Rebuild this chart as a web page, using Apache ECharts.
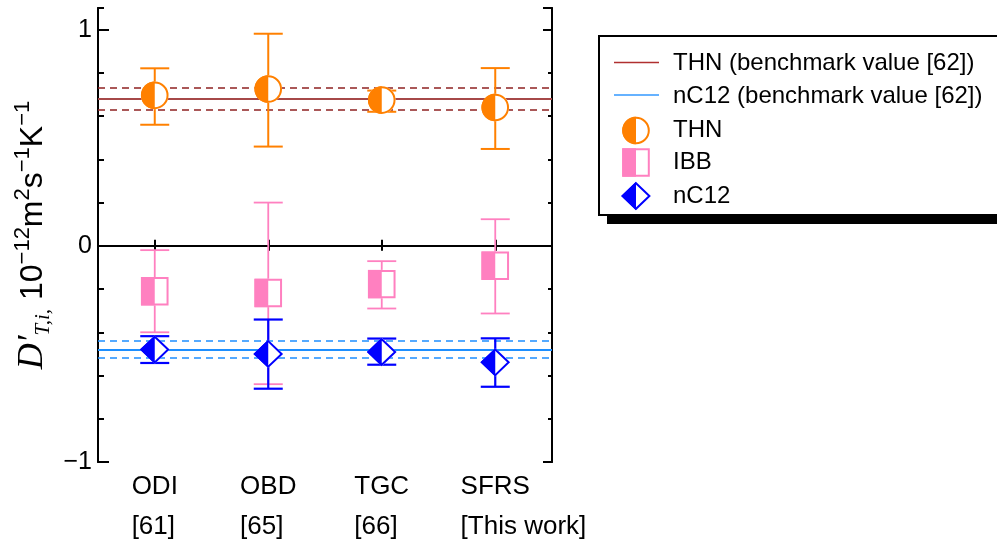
<!DOCTYPE html>
<html><head><meta charset="utf-8">
<script src="https://cdn.jsdelivr.net/npm/echarts@6/dist/echarts.min.js"></script>
<style>html,body{margin:0;padding:0;background:#fff}#c{width:997px;height:541px}</style>
</head><body><div id="c"></div><script>
// ---------- data ----------
const categories = ['ODI', 'OBD', 'TGC', 'SFRS'];
const references = ['[61]', '[65]', '[66]', '[This work]'];
const thnValue = [0.696, 0.725, 0.674, 0.640];
const thnLow   = [0.560, 0.459, 0.620, 0.448];
const thnHigh  = [0.821, 0.981, 0.718, 0.822];
const ibbValue = [-0.210, -0.218, -0.177, -0.092];
const ibbLow   = [-0.400, -0.640, -0.290, -0.313];
const ibbHigh  = [-0.020, 0.200, -0.071, 0.123];
const nc12Value = [-0.480, -0.500, -0.491, -0.539];
const nc12Low   = [-0.542, -0.661, -0.550, -0.652];
const nc12High  = [-0.418, -0.341, -0.429, -0.428];
const thnBenchmark = 0.680;
const thnBenchmarkBand = [0.629, 0.730];
const nc12Benchmark = -0.480;
const nc12BenchmarkBand = [-0.519, -0.442];
const yTickValues = [-1, 0, 1];
const yTickLabels = ['\u22121', '0', '1'];
const legendNames = ['THN (benchmark value [62])', 'nC12 (benchmark value [62])', 'THN', 'IBB', 'nC12'];

// ---------- styles ----------
const SANS = '"Liberation Sans", Arial, Helvetica, sans-serif';
const SERIF = '"Liberation Serif", "Times New Roman", serif';
const C_THN = '#FF8000', C_IBB = '#FF80C0', C_NC12 = '#0000FF';
const C_THN_LINE = '#A64848', C_THN_DASH = '#8E2222', C_NC_LINE = '#1E8FFF', C_NC_DASH = '#1E8FFF';
const LABEL_FONT = 26;

function markerEls(kind, cx, cy, color, s) {
  s = s || 1;
  const out = [];
  if (kind === 'circle') {
    const r = 13.8 * s, pts = [];
    for (let i = 0; i <= 40; i++) {
      const a = Math.PI / 2 + Math.PI * i / 40;
      pts.push([cx + r * Math.cos(a), cy + r * Math.sin(a)]);
    }
    out.push({type: 'circle', shape: {cx: cx, cy: cy, r: r}, style: {fill: '#fff'}});
    out.push({type: 'polygon', shape: {points: pts}, style: {fill: color}});
    out.push({type: 'circle', shape: {cx: cx, cy: cy, r: r - 1}, style: {fill: 'none', stroke: color, lineWidth: 2}});
  } else if (kind === 'square') {
    const hw = 13.8 * s, hh = 14.2 * s;
    out.push({type: 'rect', shape: {x: cx - hw, y: cy - hh, width: 2 * hw, height: 2 * hh}, style: {fill: '#fff'}});
    out.push({type: 'rect', shape: {x: cx - hw, y: cy - hh, width: hw, height: 2 * hh}, style: {fill: color}});
    out.push({type: 'rect', shape: {x: cx - hw + 1, y: cy - hh + 1, width: 2 * hw - 2, height: 2 * hh - 2}, style: {fill: 'none', stroke: color, lineWidth: 2}});
  } else {
    const hw = 14.8 * s, hh = 14.2 * s, k = 1.4;
    out.push({type: 'polygon', shape: {points: [[cx, cy - hh], [cx + hw, cy], [cx, cy + hh], [cx - hw, cy]]}, style: {fill: '#fff'}});
    out.push({type: 'polygon', shape: {points: [[cx, cy - hh], [cx, cy + hh], [cx - hw, cy]]}, style: {fill: color}});
    out.push({type: 'polygon', shape: {points: [[cx, cy - hh + k], [cx + hw - k, cy], [cx, cy + hh - k], [cx - hw + k, cy]]}, style: {fill: 'none', stroke: color, lineWidth: 2}});
  }
  return out;
}

function errorSeries(name, kind, color, lw, vals, lows, highs) {
  return {
    type: 'custom', name: name, xAxisIndex: 0, yAxisIndex: 0, z: 5, silent: true,
    data: vals.map(function (v, i) { return [i, v, lows[i], highs[i]]; }),
    encode: {x: 0, y: [1, 2, 3]},
    renderItem: function (params, api) {
      const i = api.value(0);
      const c = api.coord([i, api.value(1)]);
      const lo = api.coord([i, api.value(2)]);
      const hi = api.coord([i, api.value(3)]);
      const cap = 14.5;
      const ls = {stroke: color, lineWidth: lw};
      const children = [
        {type: 'line', shape: {x1: c[0], y1: lo[1], x2: c[0], y2: hi[1]}, style: ls},
        {type: 'line', shape: {x1: c[0] - cap, y1: lo[1], x2: c[0] + cap, y2: lo[1]}, style: ls},
        {type: 'line', shape: {x1: c[0] - cap, y1: hi[1], x2: c[0] + cap, y2: hi[1]}, style: ls}
      ].concat(markerEls(kind, c[0], c[1], color));
      return {type: 'group', children: children};
    }
  };
}

// measure first-line widths so second line starts at the first line's left edge
const mctx = document.createElement('canvas').getContext('2d');
mctx.font = LABEL_FONT + 'px ' + SANS;
const xRich = {a: {fontSize: LABEL_FONT, fontFamily: SANS, color: '#000', lineHeight: 40, align: 'left'}};
categories.forEach(function (c, i) {
  xRich['b' + i] = {fontSize: LABEL_FONT, fontFamily: SANS, color: '#000', lineHeight: 40, align: 'left',
    width: Math.round(mctx.measureText(c).width)};
});

const axLine = {show: true, lineStyle: {color: '#000', width: 2}};
function yAxisDef(pos, interval, tickLen, withLabels) {
  const d = {
    type: 'value', position: pos, min: -1, max: 1.1, interval: interval,
    axisLine: axLine,
    axisTick: {show: true, inside: true, length: tickLen, lineStyle: {color: '#000', width: 2}},
    splitLine: {show: false},
    axisLabel: {show: false}
  };
  if (withLabels) {
    d.axisLabel = {
      show: true, margin: 6, fontSize: 25, fontFamily: SANS, color: '#000', showMaxLabel: false,
      formatter: function (v) {
        const k = yTickValues.findIndex(function (t) { return Math.abs(t - v) < 1e-6; });
        return k >= 0 ? yTickLabels[k] : '';
      }
    };
    d.name = '{d|D\u2032}{sub|T,i,}{sp| }{n|10}{sup|\u221212}{n|m}{sup|2}{n|s}{sup|\u22121}{n|K}{sup|\u22121}';
    d.nameLocation = 'middle';
    d.nameRotate = 90;
    d.nameGap = 44;
    d.nameTextStyle = {
      rich: {
        d: {fontFamily: SERIF, fontStyle: 'italic', fontSize: 36, lineHeight: 42, color: '#000'},
        sub: {fontFamily: SERIF, fontStyle: 'italic', fontSize: 21, lineHeight: 20, verticalAlign: 'bottom', color: '#000'},
        sp: {fontFamily: SANS, fontSize: 32, lineHeight: 42, color: '#000'},
        n: {fontFamily: SANS, fontSize: 32, lineHeight: 42, color: '#000'},
        sup: {fontFamily: SANS, fontSize: 22, lineHeight: 22, verticalAlign: 'top', color: '#000'}
      }
    };
  }
  return d;
}

// legend (graphic)
const legendRowY = [63, 96, 130.5, 162.5, 196];
const legendMarkX = 636, legendTextX = 673;
const graphicEls = [
  {type: 'rect', shape: {x: 607, y: 44, width: 420, height: 180}, style: {fill: '#000'}, z: 10},
  {type: 'rect', shape: {x: 599, y: 36, width: 420, height: 179}, style: {fill: '#fff', stroke: '#000', lineWidth: 2}, z: 11},
  {type: 'line', shape: {x1: 614, y1: legendRowY[0] - 0.5, x2: 659, y2: legendRowY[0] - 0.5}, style: {stroke: '#B03030', lineWidth: 1.5}, z: 12},
  {type: 'line', shape: {x1: 614, y1: legendRowY[1] - 1, x2: 659, y2: legendRowY[1] - 1}, style: {stroke: '#3399FF', lineWidth: 1.5}, z: 12}
];
[['circle', C_THN], ['square', C_IBB], ['diamond', C_NC12]].forEach(function (m, j) {
  markerEls(m[0], legendMarkX, legendRowY[j + 2], m[1], 1).forEach(function (e) { e.z = 12; graphicEls.push(e); });
});
legendNames.forEach(function (t, j) {
  graphicEls.push({type: 'text', x: legendTextX, y: legendRowY[j], z: 12,
    style: {text: t, fontSize: 24, fontFamily: SANS, fill: '#000', align: 'left', verticalAlign: 'middle'}});
});

const chart = echarts.init(document.getElementById('c'), null, {renderer: 'canvas'});
chart.setOption({
  animation: false,
  backgroundColor: '#fff',
  grid: {left: 98, right: 445, top: 8, bottom: 79, containLabel: false, outerBoundsMode: 'none'},
  xAxis: [
    {type: 'category', data: categories, position: 'bottom', boundaryGap: true,
      axisLine: axLine,
      axisTick: {show: true, inside: true, alignWithLabel: true, length: 6, lineStyle: {color: '#000', width: 2}},
      splitLine: {show: false},
      axisLabel: {interval: 0, margin: 5, align: 'center', hideOverlap: false,
        formatter: function (v, i) { return '{a|' + v + '}\n{b' + i + '|' + references[i] + '}'; },
        rich: xRich}},
    {type: 'category', data: categories, position: 'top', boundaryGap: true,
      axisLine: axLine,
      axisTick: {show: true, inside: true, alignWithLabel: true, length: 5, lineStyle: {color: '#000', width: 2}},
      splitLine: {show: false}, axisLabel: {show: false}}
  ],
  yAxis: [
    yAxisDef('left', 0.2, 6, false),
    yAxisDef('left', 1, 11, true),
    yAxisDef('right', 0.2, 4, false),
    yAxisDef('right', 1, 9, false)
  ],
  series: [
    {type: 'line', data: [], xAxisIndex: 0, yAxisIndex: 0, z: 2, silent: true,
      markLine: {silent: true, symbol: ['none', 'none'], label: {show: false}, animation: false,
        emphasis: {disabled: true},
        data: [
          {yAxis: 0, lineStyle: {color: '#000', width: 1, type: 'solid'}},
          {yAxis: thnBenchmark, lineStyle: {color: C_THN_LINE, width: 2, type: 'solid'}},
          {yAxis: thnBenchmarkBand[0], lineStyle: {color: C_THN_DASH, width: 1.5, type: [7, 5]}},
          {yAxis: thnBenchmarkBand[1], lineStyle: {color: C_THN_DASH, width: 1.5, type: [7, 5]}},
          {yAxis: nc12Benchmark, lineStyle: {color: C_NC_LINE, width: 2, type: 'solid'}},
          {yAxis: nc12BenchmarkBand[0], lineStyle: {color: C_NC_DASH, width: 1.5, type: [7, 5]}},
          {yAxis: nc12BenchmarkBand[1], lineStyle: {color: C_NC_DASH, width: 1.5, type: [7, 5]}}
        ]}},
    errorSeries('THN', 'circle', C_THN, 2, thnValue, thnLow, thnHigh),
    errorSeries('IBB', 'square', C_IBB, 1.8, ibbValue, ibbLow, ibbHigh),
    errorSeries('nC12', 'diamond', C_NC12, 2.2, nc12Value, nc12Low, nc12High)
  ],
  graphic: {elements: graphicEls}
});
</script></body></html>
